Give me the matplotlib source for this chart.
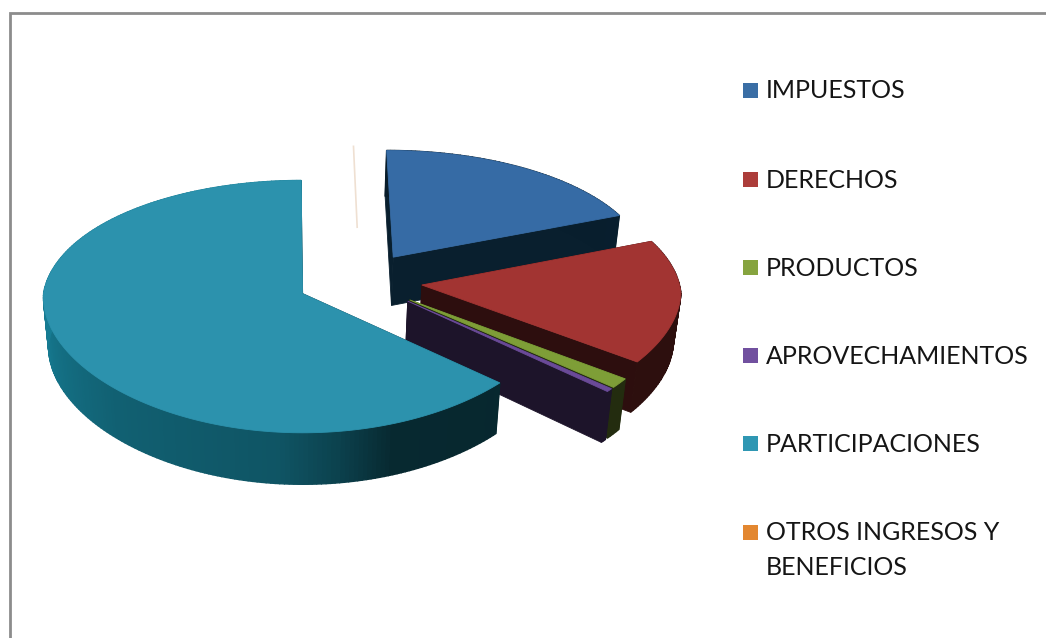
import numpy as np
from matplotlib import pyplot as plt
from matplotlib.colors import to_rgb
from matplotlib.patches import Polygon, Rectangle

# shares (percent)
categories = ["IMPUESTOS", "DERECHOS", "PRODUCTOS", "APROVECHAMIENTOS",
              "PARTICIPACIONES", "OTROS INGRESOS Y\nBENEFICIOS"]
values = [19.0, 16.0, 1.2, 0.4, 63.3, 0.1]
top_colors = ["#366ba5", "#a23432", "#7e9e37", "#6a4a98", "#2c92ad", "#efe0d2"]
wall_colors = ["#1f70a8", "#a23432", "#7e9e37", "#6a4a98", "#1a92ad", "#efe0d2"]
legend_colors = ["#3a6ea5", "#ac3d3a", "#86a43f", "#71509f", "#2f97b3", "#e38730"]
legend_y = [90, 179, 267, 355, 443, 532]
draw_order = [0, 5, 1, 2, 3, 4]

# projection of the tilted pie, in pixels
CX, CY = 302, 293
RX, RY = 259, 124.7
PERSP_X_FAR = 0.08
PERSP_X_NEAR = 0.03
PERSP_Y = 0.103
BOTTOM_SCALE = 0.02
DEPTH = 50
EXPLODE = 0.243
CENTER = (0.224, 0.095)

shade_angles = [0, 90, 128, 134, 160, 172, 185, 225, 270, 360]
shade_levels = [0.25, 0.28, 0.28, 0.27, 0.28, 0.45, 0.58, 0.66, 0.85, 0.85]


def project(x, y, bottom=False):
    extra = BOTTOM_SCALE if bottom else 0
    sx = 1 / (1 + np.where(y > 0, PERSP_X_FAR, PERSP_X_NEAR) * y + extra)
    sy = 1 / (1 + PERSP_Y * y + extra)
    return CX + RX * x * sx, CY - RY * y * sy + (DEPTH * sy if bottom else 0)


def shaded(color, angle):
    return tuple(c * np.interp(angle % 360, shade_angles, shade_levels) for c in to_rgb(color))


def add_poly(ax, xs, ys, color, z, lw=0.6):
    ax.add_patch(Polygon(np.column_stack([xs, ys]), closed=True, facecolor=color,
                         edgecolor=color, linewidth=lw, zorder=z))


def draw_slice(ax, start, end, top_color, wall_color, z):
    mid = np.radians((start + end) / 2)
    ox = CENTER[0] + EXPLODE * np.sin(mid)
    oy = CENTER[1] + EXPLODE * np.cos(mid)
    angles = np.radians(np.linspace(start, end, max(int(end - start), 2) + 1))
    arc_x = ox + np.sin(angles)
    arc_y = oy + np.cos(angles)

    # straight walls first, the rim over them, the top face last
    for ex, ey in [(arc_x[0], arc_y[0]), (arc_x[-1], arc_y[-1])]:
        tx, ty = project(np.array([ox, ex]), np.array([oy, ey]))
        bx, by = project(np.array([ox, ex]), np.array([oy, ey]), bottom=True)
        add_poly(ax, np.r_[tx, bx[::-1]], np.r_[ty, by[::-1]], shaded(wall_color, 130), z)
    tx, ty = project(arc_x, arc_y)
    bx, by = project(arc_x, arc_y, bottom=True)
    for i in range(len(angles) - 1):
        add_poly(ax, [tx[i], tx[i + 1], bx[i + 1], bx[i]], [ty[i], ty[i + 1], by[i + 1], by[i]],
                 shaded(wall_color, np.degrees(angles[i])), z + 0.1, lw=1.0)
    fx, fy = project(np.r_[ox, arc_x], np.r_[oy, arc_y])
    add_poly(ax, fx, fy, top_color, z + 0.2)


fig = plt.figure(figsize=(10.46, 6.38), dpi=100)
ax = fig.add_axes([0, 0, 1, 1])
ax.set_xlim(0, 1046)
ax.set_ylim(638, 0)
ax.axis("off")

# chart frame
ax.plot([10, 10, 1046], [638, 13, 13], color="#8c8c8c", lw=2.0, solid_joinstyle="miter")

edges = np.r_[0, np.cumsum(values)] / sum(values) * 360
for n, i in enumerate(draw_order):
    if categories[i].startswith("OTROS"):
        # no depth worth drawing, just the pale line above the gap
        mid = np.radians((edges[i] + edges[i + 1]) / 2)
        ox = CENTER[0] + EXPLODE * np.sin(mid)
        oy = CENTER[1] + EXPLODE * np.cos(mid)
        lx, ly = project(ox + np.array([0.22, 1.0]) * np.sin(mid), oy + np.array([0.22, 1.0]) * np.cos(mid))
        ax.plot(lx, ly, color=top_colors[i], lw=1.2, zorder=n + 1)
        continue
    draw_slice(ax, edges[i], edges[i + 1], top_colors[i], wall_colors[i], n + 1)

for label, color, y in zip(categories, legend_colors, legend_y):
    ax.add_patch(Rectangle((743, y - 7.5), 15, 15, facecolor=color, edgecolor="none", zorder=20))
    ax.text(766, y - 10.5, label, family="Lato", fontsize=18, color="#151515",
            va="top", ha="left", linespacing=1.58, zorder=20)

fig.savefig("out.png", dpi=100)
